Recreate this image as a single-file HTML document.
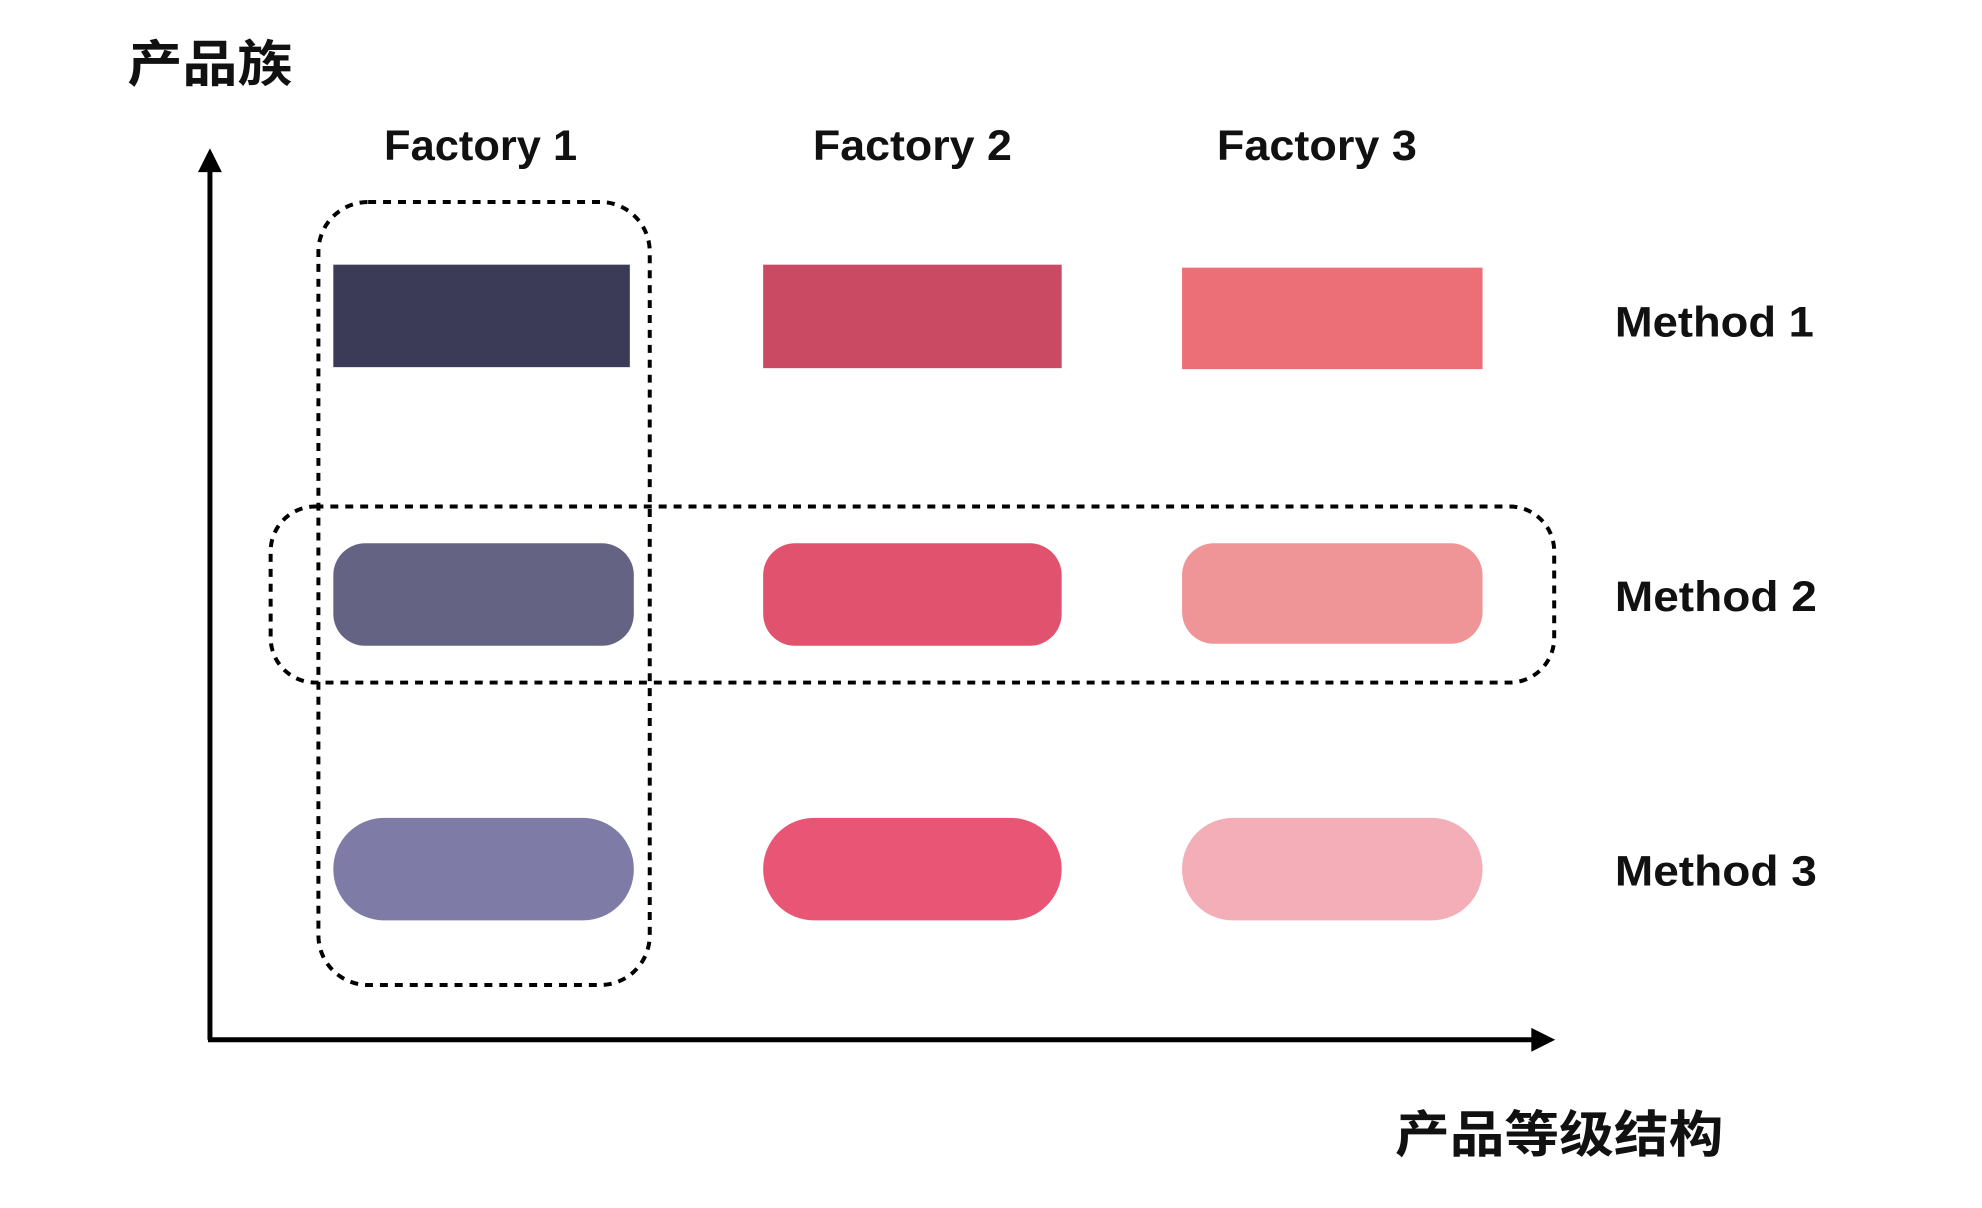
<!DOCTYPE html>
<html><head><meta charset="utf-8"><style>
html,body{margin:0;padding:0;background:#fff;}
svg{display:block}
text{font-family:"Liberation Sans","Noto Sans CJK SC",sans-serif;font-weight:bold;fill:#111}
</style></head><body>
<svg width="1982" height="1208" viewBox="0 0 1982 1208" xmlns="http://www.w3.org/2000/svg">
<g transform="translate(1,0) scale(0.995)">
<text x="127" y="82" font-size="50" textLength="166" lengthAdjust="spacingAndGlyphs">产品族</text>
<text x="385" y="161" font-size="43" textLength="194" lengthAdjust="spacingAndGlyphs">Factory 1</text>
<text x="816" y="161" font-size="43" textLength="200" lengthAdjust="spacingAndGlyphs">Factory 2</text>
<text x="1222" y="161" font-size="43" textLength="201" lengthAdjust="spacingAndGlyphs">Factory 3</text>
<text x="1622" y="338" font-size="43" textLength="200" lengthAdjust="spacingAndGlyphs">Method 1</text>
<text x="1622" y="614" font-size="43" textLength="203" lengthAdjust="spacingAndGlyphs">Method 2</text>
<text x="1622" y="890" font-size="43" textLength="203" lengthAdjust="spacingAndGlyphs">Method 3</text>
<text x="1401" y="1158" font-size="50" textLength="330" lengthAdjust="spacingAndGlyphs">产品等级结构</text>
<line x1="210" y1="170" x2="210" y2="1045" stroke="#000" stroke-width="5"/>
<polygon points="210,149 198,173 222,173" fill="#000"/>
<line x1="208" y1="1045" x2="1540" y2="1045" stroke="#000" stroke-width="5"/>
<polygon points="1562,1045 1538,1033 1538,1057" fill="#000"/>
<rect x="334" y="266" width="298" height="103" fill="#3b3a57"/>
<rect x="766" y="266" width="300" height="104" fill="#c94a62"/>
<rect x="1187" y="269" width="302" height="102" fill="#ec6f77"/>
<rect x="334" y="546" width="302" height="103" rx="32" fill="#646384"/>
<rect x="766" y="546" width="300" height="103" rx="32" fill="#e0526e"/>
<rect x="1187" y="546" width="302" height="101" rx="32" fill="#ef9497"/>
<rect x="334" y="822" width="302" height="103" rx="51" fill="#7e7ca6"/>
<rect x="766" y="822" width="300" height="103" rx="51" fill="#e95575"/>
<rect x="1187" y="822" width="302" height="103" rx="51" fill="#f3aeb7"/>
<rect x="319" y="203" width="333" height="787" rx="50" fill="none" stroke="#000" stroke-width="4" stroke-dasharray="8 7"/>
<rect x="271" y="509" width="1290" height="177" rx="45" fill="none" stroke="#000" stroke-width="4" stroke-dasharray="8 7"/>
</g>
</svg>
</body></html>
